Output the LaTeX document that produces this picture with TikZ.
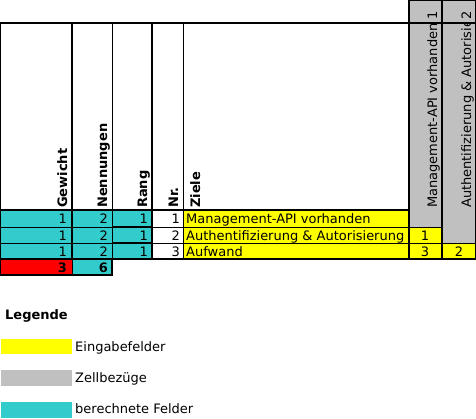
\documentclass[tikz,border=0pt]{standalone}
\usepackage{fontspec}
\setmainfont{DejaVu Sans}
\definecolor{gelb}{HTML}{FFFF00}
\definecolor{grau}{HTML}{C0C0C0}
\definecolor{tuerkis}{HTML}{33CCCC}
\definecolor{rot}{HTML}{FF0000}

\begin{document}
\begin{tikzpicture}[x=1pt,y=-1pt]
\tikzstyle{every node}=[inner sep=0pt,font=\fontsize{13}{15}\selectfont]
\tikzstyle{kopf}=[rotate=90,anchor=base west,font=\fontsize{13}{15}\selectfont\bfseries]
\tikzstyle{schraeg}=[rotate=90,anchor=base west]
\tikzstyle{zahl}=[anchor=base east]
\tikzstyle{dick}=[line width=2pt]
\tikzstyle{duenn}=[line width=0.8pt]
\useasboundingbox (0,0) rectangle (476,418);
% Flaechen
\fill[tuerkis] (0,210) rectangle (152,259);
\fill[gelb] (183,210) rectangle (409,259);
\fill[grau] (409,0) rectangle (442,227);
\fill[gelb] (409,227) rectangle (442,259);
\fill[grau] (442,0) rectangle (476,243);
\fill[gelb] (442,243) rectangle (476,259);
\fill[rot] (0,259) rectangle (72,275);
\fill[tuerkis] (72,259) rectangle (112,275);
% Linien
\draw[duenn] (0,227) -- (442,227) (0,243) -- (476,243);
\draw[duenn] (112,23) -- (112,259) (183,23) -- (183,259);
\draw[dick] (112,227) -- (152,227) (112,243) -- (152,243);
\draw[dick] (0,23) rectangle (409,259);
\draw[dick] (72,23) -- (72,259) (152,23) -- (152,259) (0,210) -- (409,210);
\draw[dick] (409,0) rectangle (476,259);
\draw[dick] (442,0) -- (442,259) (409,23) -- (476,23);
\draw[dick] (0,259) rectangle (112,275);
\draw[duenn] (72,259) -- (72,275);
% Kopfzeile
\node[kopf] (gewicht) at (67,208) {Gewicht};
\node[kopf] (nennungen) at (107,208) {Nennungen};
\node[kopf] (rang) at (147,208) {Rang};
\node[kopf] (nr) at (178,208) {Nr.};
\node[kopf] (ziele) at (200,208) {Ziele};
\node[schraeg] (nr1) at (437,20) {1};
\node[schraeg] (nr2) at (471,20) {2};
\node[schraeg] (ziel1) at (437,208) {Management-API vorhanden};
\begin{scope}
\clip (443,24) rectangle (476,209);
\node[schraeg] (ziel2) at (471,208) {Authentifizierung \& Autorisie};
\end{scope}
% Zeilen
\foreach \z/\y/\t in {1/223/Management-API vorhanden,2/240/Authentifizierung \& Autorisierung,3/256/Aufwand}{
  \node[zahl] (gew\z) at (67,\y) {1};
  \node[zahl] (nen\z) at (108,\y) {2};
  \node[zahl] (rang\z) at (148,\y) {1};
  \node[zahl] (nr\z) at (180,\y) {\z};
  \node[anchor=base west] (ziel\z) at (186,\y) {\t};
}
\node[anchor=base] (m21) at (425,240) {1};
\node[anchor=base] (m31) at (425,256) {3};
\node[anchor=base] (m32) at (459,256) {2};
% Summen
\node[zahl,font=\fontsize{13}{15}\selectfont\bfseries] (summe) at (67,272) {3};
\node[zahl,font=\fontsize{13}{15}\selectfont\bfseries] (nsumme) at (108,272) {6};
% Legende
\node[anchor=base west,font=\fontsize{13}{15}\selectfont\bfseries] (legende) at (5,319) {Legende};
\fill[gelb] (1,339) rectangle (72,354);
\fill[grau] (1,370) rectangle (72,386);
\fill[tuerkis] (1,402) rectangle (72,418);
\node[anchor=base west] (eingabe) at (75,351) {Eingabefelder};
\node[anchor=base west] (bezug) at (75,382) {Zellbezüge};
\node[anchor=base west] (berechnet) at (75,413) {berechnete Felder};
\end{tikzpicture}
\end{document}
